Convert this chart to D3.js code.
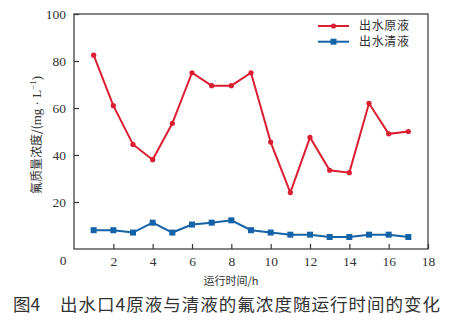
<!DOCTYPE html>
<html><head><meta charset="utf-8">
<script src="https://cdn.jsdelivr.net/npm/d3@7"></script>
<style>body{margin:0;background:#fff}
.num{font-family:"Liberation Serif","DejaVu Serif",serif;}
</style>
</head><body>
<svg id="c" width="453" height="325"></svg>
<script>
const hours = [1,2,3,4,5,6,7,8,9,10,11,12,13,14,15,16,17];
const rawSeries = [82.5,61,44.5,38,53.5,75,69.5,69.5,75,45.5,24,47.5,33.5,32.5,62,49,50];
const clearSeries = [8,8,7,11.2,7,10.4,11.2,12.2,8,7,6.1,6.1,5.1,5.1,6.1,6.1,5.1];
const xTicks = [2,4,6,8,10,12,14,16,18];
const yTicks = [20,40,60,80,100];
const seriesNames = ["出水原液","出水清液"];
const xLabel = "运行时间/h";
const caption = ["图4","出水口4原液与清液的氟浓度随运行时间的变化"];

const svg = d3.select("#c");
const L=74, R=428, T=14, B=249;
const x = d3.scaleLinear().domain([0,18]).range([L,R]);
const y = d3.scaleLinear().domain([0,100]).range([B,T]);
const cjk = "'Noto Sans CJK SC','Noto Sans',sans-serif";
const axisCol = "#333";

svg.append("rect").attr("x",L).attr("y",T).attr("width",R-L).attr("height",B-T)
  .attr("fill","none").attr("stroke",axisCol).attr("stroke-width",1.2);

const xa = svg.append("g").attr("transform",`translate(0,${B})`)
  .call(d3.axisBottom(x).tickValues(xTicks).tickSizeInner(-5).tickSizeOuter(0).tickPadding(7));
xa.attr("font-family",null).attr("font-size",null);
xa.select(".domain").remove();
xa.selectAll("line").attr("stroke",axisCol).attr("stroke-width",1.2);
xa.selectAll("text").attr("class","num").style("font-size","13.5px").attr("fill","#333");

const ya = svg.append("g").attr("transform",`translate(${L},0)`)
  .call(d3.axisLeft(y).tickValues(yTicks).tickSizeInner(-5).tickSizeOuter(0).tickPadding(8));
ya.attr("font-family",null).attr("font-size",null);
ya.select(".domain").remove();
ya.selectAll("line").attr("stroke",axisCol).attr("stroke-width",1.2);
ya.selectAll("text").attr("class","num").style("font-size","13.5px").attr("fill","#333");

svg.append("text").attr("class","num").attr("x",x(0)-11).attr("y",y(0)+16).attr("text-anchor","middle")
  .style("font-size","13.5px").attr("fill","#333").text("0");

svg.append("text").attr("x",231).attr("y",285).attr("text-anchor","middle")
  .style("font-family",cjk).style("font-size","11px").attr("fill","#333").text(xLabel);

const yl = svg.append("text").attr("transform","translate(41,135) rotate(-90)")
  .attr("text-anchor","middle").style("font-family",cjk).style("font-size","12px").attr("fill","#333");
yl.append("tspan").text("氟质量浓度/(");
yl.append("tspan").attr("class","num").style("font-size","13px").text("mg · L");
yl.append("tspan").attr("class","num").style("font-size","9px").attr("dy",-5).text("−1");
yl.append("tspan").attr("class","num").style("font-size","13px").attr("dy",5).text(")");

const red = "#dc1e32", blue = "#1462a8";
const line = d3.line().x((d,i)=>x(hours[i])).y(d=>y(d));
svg.append("path").datum(rawSeries).attr("d",line).attr("fill","none").attr("stroke",red).attr("stroke-width",2);
svg.selectAll(".rp").data(rawSeries).enter().append("circle")
  .attr("cx",(d,i)=>x(hours[i])).attr("cy",d=>y(d)).attr("r",2.6).attr("fill",red);
svg.append("path").datum(clearSeries).attr("d",line).attr("fill","none").attr("stroke",blue).attr("stroke-width",2);
svg.selectAll(".bp").data(clearSeries).enter().append("rect")
  .attr("x",(d,i)=>x(hours[i])-3).attr("y",d=>y(d)-3).attr("width",6).attr("height",6).attr("fill",blue);

const lg = [[red,"c"],[blue,"s"]];
lg.forEach((l,i)=>{
  const ly = 26 + i*15.7;
  svg.append("line").attr("x1",318).attr("x2",349).attr("y1",ly).attr("y2",ly).attr("stroke",l[0]).attr("stroke-width",2);
  if(l[1]==="c") svg.append("circle").attr("cx",333.5).attr("cy",ly).attr("r",2.6).attr("fill",l[0]);
  else svg.append("rect").attr("x",330.5).attr("y",ly-3).attr("width",6).attr("height",6).attr("fill",l[0]);
  svg.append("text").attr("x",359).attr("y",ly+4.2).style("font-family",cjk).style("font-size","12px")
    .attr("textLength",50).attr("lengthAdjust","spacing")
    .attr("fill","#333").text(seriesNames[i]);
});

svg.append("text").attr("x",13).attr("y",311).style("font-family",cjk).style("font-size","17.5px").attr("fill","#333").text(caption[0]);
svg.append("text").attr("x",60).attr("y",311).style("font-family",cjk).style("font-size","17.5px").attr("fill","#333")
  .attr("textLength",380).attr("lengthAdjust","spacing").text(caption[1]);
</script>
</body></html>
